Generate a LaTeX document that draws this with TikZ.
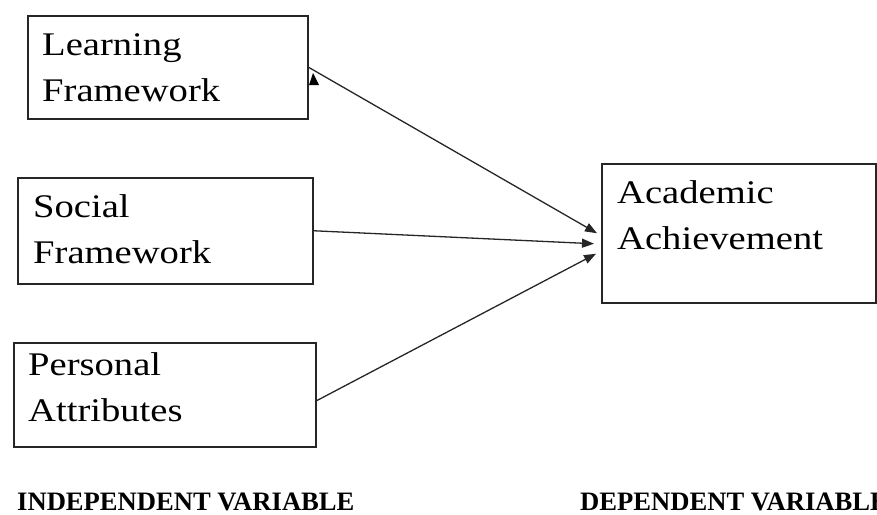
\documentclass[tikz,border=0pt]{standalone}
\usepackage{fontspec}
\setmainfont{Liberation Serif}
\newfontfamily\boxfont[FakeStretch=1.17]{Liberation Serif}
\usetikzlibrary{arrows.meta}
\begin{document}
\begin{tikzpicture}[x=1pt,y=-1pt,
  box/.style={draw=black!85,line width=1.5pt,inner sep=0pt,anchor=north west},
  boxtext/.style={inner sep=0pt,anchor=base west,align=left,font=\boxfont\fontsize{33}{46}\selectfont},
  lbl/.style={inner sep=0pt,anchor=base west,font=\bfseries\fontsize{26.6}{30}\selectfont},
  arr/.style={draw=black!85,line width=1.3pt,-{Triangle[length=12pt,width=9pt]}}]
\useasboundingbox (0,0) rectangle (877,514);
% boxes
\node[box,minimum width=280pt,minimum height=103pt] (lf) at (27,15) {};
\node[box,minimum width=295pt,minimum height=106pt] (sf) at (17,177) {};
\node[box,minimum width=302pt,minimum height=104pt] (pa) at (13,342) {};
\node[box,minimum width=274pt,minimum height=139pt] (aa) at (601,163) {};
% texts (anchor is the baseline of the last line)
\node[boxtext] (lft) at (42,101) {Learning\\Framework};
\node[boxtext] (sft) at (33,263) {Social\\Framework};
\node[boxtext] (pat) at (28,421) {Personal\\Attributes};
\node[boxtext] (aat) at (617,249) {Academic\\Achievement};
% connectors
\draw[arr] (lf.east) -- ([xshift=-4pt]aa.west);
\draw[arr] (sf.east) -- ([xshift=-7pt,yshift=-10.5pt]aa.west);
\draw[arr] ([yshift=-6pt]pa.east) -- ([xshift=-5pt,yshift=-20.5pt]aa.west);
% stray arrowhead
\fill[black] (309,85) -- (313,73) -- (319,85) -- cycle;
% labels
\node[lbl] (iv) at (17,510) {INDEPENDENT VARIABLE};
\node[lbl] (dv) at (580,510) {DEPENDENT VARIABLE};
\end{tikzpicture}
\end{document}
